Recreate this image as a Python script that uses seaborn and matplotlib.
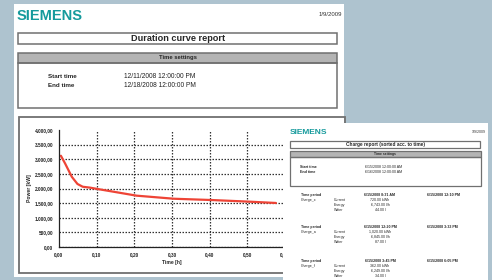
import matplotlib
matplotlib.use("Agg")
import matplotlib.pyplot as plt
import seaborn as sns
import pandas as pd
from matplotlib.patches import Rectangle
from matplotlib.ticker import MultipleLocator

# duration curve
time_h = [0.005, 0.016, 0.034, 0.049, 0.063, 0.082, 0.106, 0.206, 0.305, 0.407, 0.505, 0.576]
power_kw = [3120, 2860, 2400, 2155, 2060, 2030, 1975, 1755, 1650, 1605, 1550, 1505]

y_ticks = [0, 500, 1000, 1500, 2000, 2500, 3000, 3500, 4000]
y_tick_labels = ["0,00", "500,00", "1.000,00", "1.500,00", "2.000,00",
                 "2.500,00", "3.000,00", "3.500,00", "4.000,00"]
x_ticks = [0.0, 0.1, 0.2, 0.3, 0.4, 0.5, 0.6]
x_tick_labels = ["0,00", "0,10", "0,20", "0,30", "0,40", "0,50", "0,60"]

report_date = "1/9/2009"
time_fields = ["Start time", "End time"]
time_values = ["12/11/2008 12:00:00 PM", "12/18/2008 12:00:00 PM"]
charge_time_values = ["6/15/2008 12:00:00 AM", "6/16/2008 12:00:00 AM"]
charge_names = ["Charge_x", "Charge_a", "Charge_f"]
charge_start = ["6/15/2008 8:31 AM", "6/15/2008 12:20 PM", "6/15/2008 3:45 PM"]
charge_end = ["6/15/2008 12:10 PM", "6/15/2008 3:33 PM", "6/15/2008 6:05 PM"]
charge_current = ["720.00 kWh", "1,020.00 kWh", "362.00 kWh"]
charge_energy = ["6,743.00 l/h", "6,845.00 l/h", "6,249.00 l/h"]
charge_water = ["44.00 l", "87.00 l", "34.00 l"]

df = pd.DataFrame({"Time [h]": time_h, "Power [kW]": power_kw})

sns.set_style("white")
plt.rcParams["font.family"] = ["Liberation Sans", "DejaVu Sans"]

W, H = 492, 280
fig = plt.figure(figsize=(W / 100, H / 100), dpi=100)
fig.patch.set_facecolor("#aec3cf")

teal = "#159a9c"
frame = "#707070"
band = "#b4b4b4"


def page_axes(z):
    a = fig.add_axes([0, 0, 1, 1], zorder=z)
    a.set_xlim(0, W)
    a.set_ylim(H, 0)
    a.axis("off")
    a.patch.set_visible(False)
    return a


def box(a, x0, y0, x1, y1, lw=1.1, fc="none", ec=frame):
    a.add_patch(Rectangle((x0, y0), x1 - x0, y1 - y0, fc=fc, ec=ec, lw=lw))


# main page
bg = page_axes(0)
bg.add_patch(Rectangle((14, 4), 330, 273, fc="white", ec="none"))
bg.text(16.5, 16, "SIEMENS", color=teal, fontsize=10.5, fontweight="bold", va="center")
bg.text(342, 15, report_date, fontsize=4.3, ha="right", va="center", color="#333333")
box(bg, 18, 33, 337, 44)
bg.text(178, 38.8, "Duration curve report", fontsize=6.6, fontweight="bold", ha="center", va="center")
box(bg, 18, 53, 337, 63, fc=band)
box(bg, 18, 63, 337, 108)
bg.text(178, 58, "Time settings", fontsize=4.2, fontweight="bold", ha="center", va="center")
for i, (f, v) in enumerate(zip(time_fields, time_values)):
    bg.text(48, 76.5 + 9 * i, f, fontsize=4.5, fontweight="bold", va="center")
    bg.text(124, 76.5 + 9 * i, v, fontsize=4.8, va="center", color="#222222")
box(bg, 18.5, 117, 345, 273, lw=1.3)

# duration curve chart
ax = fig.add_axes([59 / W, (H - 247) / H, (285 - 59) / W, 117 / H], zorder=1)
ax.patch.set_visible(False)
sns.lineplot(data=df, x="Time [h]", y="Power [kW]", ax=ax, color="#ee4436", linewidth=1.6)
ax.set_xlim(0, 0.6)
ax.set_ylim(0, 4000)
ax.set_xticks(x_ticks)
ax.set_xticklabels(x_tick_labels)
ax.set_yticks(y_ticks)
ax.set_yticklabels(y_tick_labels)
ax.xaxis.set_minor_locator(MultipleLocator(0.02))
ax.grid(True, which="major", color="#333333", linestyle=(0, (1.2, 1.2)), linewidth=0.9)
ax.yaxis.get_gridlines()[-1].set_visible(False)
ax.xaxis.get_gridlines()[0].set_visible(False)
for s in ["top", "right"]:
    ax.spines[s].set_visible(False)
for s in ["left", "bottom"]:
    ax.spines[s].set_color("#222222")
    ax.spines[s].set_linewidth(0.9)
ax.tick_params(axis="both", which="major", labelsize=3.4, length=2, width=0.7, pad=2, colors="#222222")
ax.tick_params(axis="x", which="minor", length=1.5, width=0.6, direction="in", colors="#222222")
for lab in ax.get_xticklabels() + ax.get_yticklabels():
    lab.set_fontweight("bold")
ax.set_xlabel("Time [h]", fontsize=3.6, fontweight="bold", labelpad=2)
ax.set_ylabel("Power [kW]", fontsize=3.6, fontweight="bold", labelpad=2)

# second page on top
pg = page_axes(2)
pg.add_patch(Rectangle((283, 123), 205, 160, fc="white", ec="none"))
pg.text(290, 132, "SIEMENS", color=teal, fontsize=6, fontweight="bold", va="center")
pg.text(486, 132, report_date, fontsize=2.6, ha="right", va="center", color="#333333")
box(pg, 290, 141, 480, 148, lw=0.9)
pg.text(385, 144.6, "Charge report (sorted acc. to time)", fontsize=3.4, fontweight="bold",
        ha="center", va="center")
box(pg, 290, 151, 481, 157, lw=0.9, fc=band)
box(pg, 290, 157, 481, 186, lw=0.9)
pg.text(385, 154, "Time settings", fontsize=2.4, fontweight="bold", ha="center", va="center")
for i, (f, v) in enumerate(zip(time_fields, charge_time_values)):
    pg.text(300, 167.5 + 4.5 * i, f, fontsize=2.6, fontweight="bold", va="center")
    pg.text(365, 167.5 + 4.5 * i, v, fontsize=2.6, va="center")
for k in range(3):
    y0 = [195, 227, 261][k]
    pg.text(301, y0, "Time period", fontsize=2.6, fontweight="bold", va="center")
    pg.text(301, y0 + 4.5, charge_names[k], fontsize=2.6, va="center")
    pg.text(380, y0, charge_start[k], fontsize=2.6, fontweight="bold", ha="center", va="center")
    pg.text(427, y0, charge_end[k], fontsize=2.6, fontweight="bold", va="center")
    rows = [("Current", charge_current[k]), ("Energy", charge_energy[k]), ("Water", charge_water[k])]
    for j, (name, val) in enumerate(rows):
        pg.text(334, y0 + 5 + 5 * j, name, fontsize=2.6, va="center")
        pg.text(380, y0 + 5 + 5 * j, val, fontsize=2.6, ha="center", va="center")

fig.savefig("out.png", dpi=100)
